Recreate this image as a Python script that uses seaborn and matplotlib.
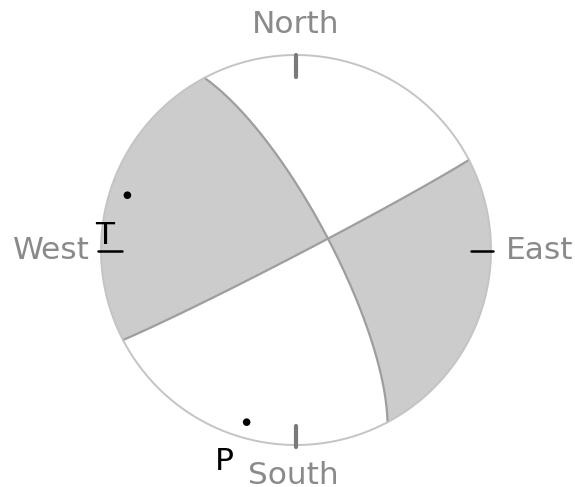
import numpy as np
import pandas as pd
import matplotlib
matplotlib.use('Agg')
import matplotlib.pyplot as plt
import seaborn as sns

# Nodal planes (strike, dip in degrees)
plane_names = ['plane 1', 'plane 2']
plane_strike = [332.0, 62.5]
plane_dip = [76.0, 88.0]

# Principal axes (trend, plunge in degrees)
axis_names = ['T', 'P']
axis_trend = [288.0, 196.0]
axis_plunge = [10.0, 9.0]

compass_labels = ['North', 'East', 'South', 'West']

sns.set_style('white')
plt.rcParams['font.family'] = ['DejaVu Sans']


def project(v):
    # lower hemisphere equal-area projection, v = (north, east, down)
    v = np.asarray(v, dtype=float)
    v = v / np.linalg.norm(v, axis=0)
    inc = np.arccos(np.clip(v[2], -1, 1))
    r = np.sqrt(2) * np.sin(inc / 2)
    h = np.hypot(v[0], v[1])
    h = np.where(h == 0, 1, h)
    return r * v[1] / h, r * v[0] / h


def axis_vec(trend, plunge):
    t, p = np.radians(trend), np.radians(plunge)
    return np.array([np.cos(p) * np.cos(t), np.cos(p) * np.sin(t), np.sin(p)])


def plane_normal(strike, dip):
    return axis_vec(strike - 90, 90 - dip)


fig = plt.figure(figsize=(5.75, 4.87), dpi=100)
ax = fig.add_axes([0, 0, 1, 1])
ax.set_xlim(-296 / 195, (575 - 296) / 195)
ax.set_ylim(-(487 - 250) / 195, 250 / 195)
ax.set_aspect('equal')
ax.axis('off')

# shaded quadrants (those holding the T axis)
g = np.linspace(-1.02, 1.02, 900)
E, N = np.meshgrid(g, g)
r = np.hypot(E, N)
inc = 2 * np.arcsin(np.clip(r / np.sqrt(2), 0, 1))
rr = np.where(r == 0, 1, r)
vec = np.array([np.sin(inc) * N / rr, np.sin(inc) * E / rr, np.cos(inc)])
n1 = plane_normal(plane_strike[0], plane_dip[0])
n2 = plane_normal(plane_strike[1], plane_dip[1])
amp = np.tensordot(n1, vec, 1) * np.tensordot(n2, vec, 1)
t_vec = axis_vec(axis_trend[0], axis_plunge[0])
amp = amp * np.sign(np.dot(n1, t_vec) * np.dot(n2, t_vec))
amp = np.ma.masked_where(r > 1, amp)
ax.contourf(E, N, amp, levels=[0, 10], colors=['#cccccc'])

# nodal planes
rows = []
for name, s, d in zip(plane_names, plane_strike, plane_dip):
    t = np.linspace(0, np.pi, 300)
    sv = axis_vec(s, 0)
    dv = axis_vec(s + 90, d)
    pts = np.outer(sv, np.cos(t)) + np.outer(dv, np.sin(t))
    x, y = project(pts)
    rows.append(pd.DataFrame({'x': x, 'y': y, 'plane': name}))
planes = pd.concat(rows)
sns.lineplot(data=planes, x='x', y='y', units='plane', estimator=None, sort=False,
             color='#9e9e9e', linewidth=1.6, ax=ax)

# outer circle
th = np.linspace(0, 2 * np.pi, 400)
ax.plot(np.cos(th), np.sin(th), color='#c4c4c4', linewidth=1.4)

# compass ticks
ax.plot([0, 0], [0.885, 1.0], color='#7a7a7a', linewidth=3)
ax.plot([0, 0], [-0.9, -1.01], color='#7a7a7a', linewidth=3)
ax.plot([-1.015, -0.89], [-0.005, -0.005], color='black', linewidth=1.8)
ax.plot([0.895, 1.01], [-0.005, -0.005], color='black', linewidth=1.8)

# P and T axes
ax_x, ax_y = project(np.array([axis_vec(t, p) for t, p in zip(axis_trend, axis_plunge)]).T)
sns.scatterplot(x=ax_x, y=ax_y, color='black', s=30, edgecolor='none', ax=ax)

fs = 22.5
gray = '#8a8a8a'
ax.text(0, 1.154, compass_labels[0], ha='center', va='center', fontsize=fs, color=gray)
ax.text(1.077, -0.005, compass_labels[1], ha='left', va='center', fontsize=fs, color=gray)
ax.text(-0.015, -1.154, compass_labels[2], ha='center', va='center', fontsize=fs, color=gray)
ax.text(-1.056, -0.005, compass_labels[3], ha='right', va='center', fontsize=fs, color=gray)
ax.text(-0.979, 0.072, axis_names[0], ha='center', va='center', fontsize=fs, color='black')
ax.text(-0.369, -1.087, axis_names[1], ha='center', va='center', fontsize=fs, color='black')

fig.savefig('out.png', dpi=100)
